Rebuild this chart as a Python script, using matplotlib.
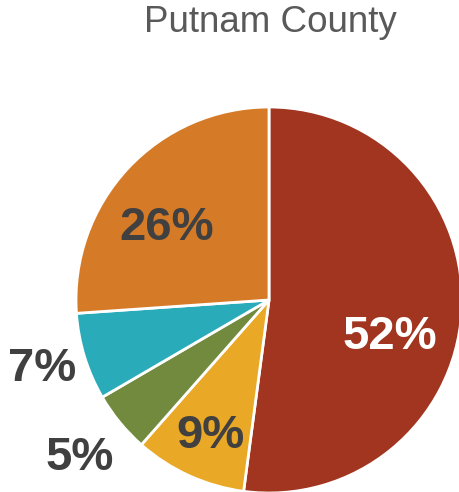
import matplotlib.pyplot as plt

# share of each group (%), clockwise from 12 o'clock
shares = [52.1, 9.4, 5.1, 7.3, 26.1]
colors = ['#A23520', '#E9A825', '#718A3D', '#2AABBA', '#D57B28']
labels = [f'{round(v)}%' for v in shares]

plt.rcParams['font.family'] = ['Liberation Sans', 'DejaVu Sans']

fig = plt.figure(figsize=(4.6, 4.92), dpi=100)
ax = fig.add_axes([76 / 460, -1 / 492, 386 / 460, 386 / 492])

ax.pie(shares, colors=colors, startangle=90, counterclock=False,
       radius=1, wedgeprops=dict(edgecolor='white', linewidth=2))
ax.set_xlim(-1, 1)
ax.set_ylim(-1, 1)
ax.set_aspect('equal')
ax.axis('off')

# label spots, pie units
spots = [(0.627, -0.192), (-0.301, -0.705), (-0.979, -0.819),
         (-1.176, -0.358), (-0.528, 0.373)]
txt_colors = ['white', '#404040', '#404040', '#404040', '#404040']
for lab, (x, y), c in zip(labels, spots, txt_colors):
    ax.text(x, y, lab, ha='center', va='center', fontsize=34,
            fontweight='bold', color=c, clip_on=False)

fig.text(270 / 460, 1 - 22 / 492, 'Putnam County', ha='center', va='center',
         fontsize=26.5, color='#595959')

fig.savefig('out.png', dpi=100)
